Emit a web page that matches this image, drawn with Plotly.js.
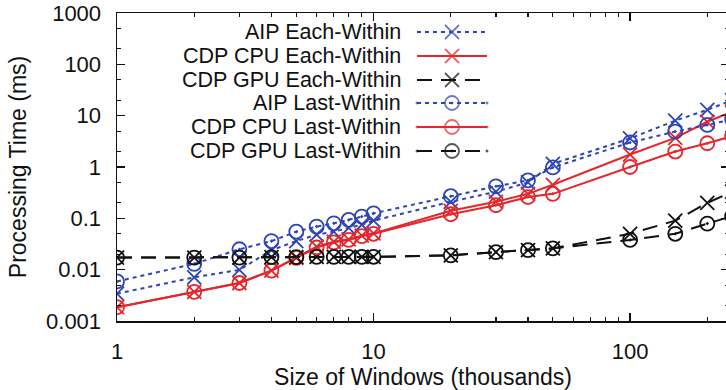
<!DOCTYPE html>
<html>
<head>
<meta charset="utf-8">
<script src="https://cdn.plot.ly/plotly-3.0.1.min.js"></script>
<style>
html,body{margin:0;padding:0;overflow:hidden;background:#fff;}
#chart{width:729px;height:390px;}
</style>
</head>
<body>
<div id="chart"></div>
<script>
// ---- data ----
const windowSizes = [1,2,3,4,5,6,7,8,9,10,20,30,40,50,100,150,200,250];
const aipEach  = [0.0034,0.0071,0.0099,0.024,0.036,0.048,0.055,0.065,0.075,0.09,0.21,0.33,0.5,1.15,3.6,8.0,13,20];
const cpuEach  = [0.00186,0.0037,0.0055,0.0096,0.017,0.028,0.035,0.039,0.046,0.051,0.14,0.21,0.30,0.45,1.75,3.7,7.6,12];
const gpuEach  = [0.0172,0.0172,0.0172,0.0176,0.0176,0.0177,0.0177,0.0177,0.0177,0.0178,0.019,0.022,0.024,0.026,0.05,0.09,0.2,0.33];
const aipLast  = [0.0059,0.013,0.025,0.036,0.055,0.069,0.08,0.093,0.108,0.125,0.27,0.42,0.55,0.98,3.0,4.9,6.6,8.5];
const cpuLast  = [0.00186,0.0037,0.0055,0.0096,0.017,0.027,0.034,0.038,0.045,0.05,0.12,0.18,0.26,0.30,1.0,2.0,2.9,4.0];
const gpuLast  = [0.0172,0.0172,0.0172,0.0176,0.0176,0.0177,0.0177,0.0177,0.0177,0.0178,0.019,0.022,0.024,0.026,0.038,0.05,0.079,0.11];

const seriesNames = ["AIP Each-Within","CDP CPU Each-Within","CDP GPU Each-Within","AIP Last-Within","CDP CPU Last-Within","CDP GPU Last-Within"];
const seriesValues = [aipEach, cpuEach, gpuEach, aipLast, cpuLast, gpuLast];

const yTickVals = [0.001,0.01,0.1,1,10,100,1000];
const yTickText = ["0.001","0.01","0.1","1","10","100","1000"];
const xTickVals = [1,10,100];
const xTickText = ["1","10","100"];
const xMinorVals = [2,3,4,5,6,7,8,9,20,30,40,50,60,70,80,90,200,300];
const yMinorVals = [0.002,0.005,0.02,0.05,0.2,0.5,2,5,20,50,200,500];

// ---- styles ----
const BLUE = '#2f44b4', RED = '#e5262a', BLACK = '#111111';
const styles = [
  {color:BLUE,  dash:'4px,4px',  symbol:'x-thin-open'},
  {color:RED,   dash:'solid',    symbol:'x-thin-open'},
  {color:BLACK, dash:'15px,9px', symbol:'x-thin-open'},
  {color:BLUE,  dash:'4px,4px',  symbol:'circle-open-dot'},
  {color:RED,   dash:'solid',    symbol:'circle-open-dot'},
  {color:BLACK, dash:'15px,9px', symbol:'circle-open-dot'}
];

const FONT = 'Liberation Sans, Arial, Helvetica, sans-serif';
const W = 729, H = 390, ML = 117, MT = 13, MB = 69, MR = 0;
const plotW = W - ML - MR, plotH = H - MT - MB;

const traces = [];
seriesValues.forEach((vals, i) => {
  const s = styles[i];
  traces.push({
    x: windowSizes, y: vals, type: 'scatter', mode: 'lines+markers',
    name: seriesNames[i], showlegend: false,
    line: {color: s.color, width: 2, dash: s.dash},
    marker: {symbol: s.symbol, size: 14, color: s.color, line: {color: s.color, width: 1.8}}
  });
});

// gnuplot-style key: text right-aligned, sample to the right (drawn on an overlay axis)
const keyRowsPx = [32, 56, 80, 103, 127, 151];
const keyTextRightPx = 402, keyLineX0 = 417, keyLineX1 = 487;
const fx = px => (px - ML) / plotW;
const fy = py => (MT + plotH - py) / plotH;
const annotations = [];
seriesNames.forEach((name, i) => {
  const s = styles[i];
  const yy = fy(keyRowsPx[i]);
  traces.push({
    x: [fx(keyLineX0), (fx(keyLineX0)+fx(keyLineX1))/2, fx(keyLineX1)], y: [yy, yy, yy],
    xaxis: 'x2', yaxis: 'y2', type: 'scatter', mode: 'lines+markers', showlegend: false,
    hoverinfo: 'skip',
    line: {color: s.color, width: 2, dash: s.dash},
    marker: {symbol: s.symbol, size: [0, 14, 0], color: s.color, line: {color: s.color, width: 1.8}}
  });
  annotations.push({
    xref: 'paper', yref: 'paper', x: fx(keyTextRightPx), y: yy,
    xanchor: 'right', yanchor: 'middle', showarrow: false, text: name,
    font: {family: FONT, size: 21.5, color: '#111'}, borderpad: 0
  });
});

const layout = {
  width: W, height: H,
  margin: {l: ML, r: MR, t: MT, b: MB, pad: 0},
  paper_bgcolor: '#fff', plot_bgcolor: '#fff',
  showlegend: false,
  font: {family: FONT, color: '#111'},
  xaxis: {
    type: 'log', range: [0, Math.log10(243)],
    tickmode: 'array', tickvals: xTickVals, ticktext: xTickText,
    ticks: 'inside', ticklen: 8, tickwidth: 1.5, tickcolor: '#111',
    minor: {tickmode: 'array', tickvals: xMinorVals, ticks: 'inside', ticklen: 4, tickwidth: 1.2, tickcolor: '#111'},
    showgrid: false, zeroline: false,
    showline: true, linecolor: '#111', linewidth: 1.5, mirror: 'ticks',
    tickfont: {family: FONT, size: 22, color: '#111'},
    ticklabelstandoff: 10,
    title: {text: 'Size of Windows (thousands)', font: {family: FONT, size: 23, color: '#111'}, standoff: 6}
  },
  yaxis: {
    type: 'log', range: [-3, 3],
    tickmode: 'array', tickvals: yTickVals, ticktext: yTickText,
    ticks: 'inside', ticklen: 8, tickwidth: 1.5, tickcolor: '#111',
    minor: {tickmode: 'array', tickvals: yMinorVals, ticks: 'inside', ticklen: 4, tickwidth: 1.2, tickcolor: '#111'},
    showgrid: false, zeroline: false,
    showline: true, linecolor: '#111', linewidth: 1.5, mirror: 'ticks',
    tickfont: {family: FONT, size: 22, color: '#111'},
    ticklabelstandoff: 10,
    title: {text: 'Processing Time (ms)', font: {family: FONT, size: 23, color: '#111'}, standoff: 13}
  },
  xaxis2: {overlaying: 'x', anchor: 'y2', range: [0, 1], visible: false, fixedrange: true},
  yaxis2: {overlaying: 'y', anchor: 'x2', range: [0, 1], visible: false, fixedrange: true},
  annotations: annotations
};

Plotly.newPlot('chart', traces, layout, {staticPlot: true, displayModeBar: false});
</script>
</body>
</html>
